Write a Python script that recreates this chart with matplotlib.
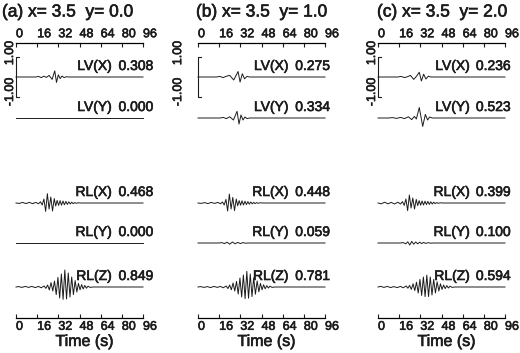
import matplotlib
matplotlib.use('Agg')
import matplotlib.pyplot as plt
import matplotlib.patheffects as pe

plt.rcParams['font.family'] = ['Liberation Sans', 'DejaVu Sans']
plt.rcParams['axes.linewidth'] = 0.9

W, H = 520., 353.

# panel headers and trace labels
titles = ['(a) x= 3.5  y= 0.0', '(b) x= 3.5  y= 1.0', '(c) x= 3.5  y= 2.0']
trace_names = ['LV(X)', 'LV(Y)', 'RL(X)', 'RL(Y)', 'RL(Z)']
peaks_a = ['0.308', '0.000', '0.468', '0.000', '0.849']
peaks_b = ['0.275', '0.334', '0.448', '0.059', '0.781']
peaks_c = ['0.236', '0.523', '0.399', '0.100', '0.594']
time_ticks = [0, 16, 32, 48, 64, 80, 96]

flat_t = [0, 96]
flat_a = [0, 0]

lvx_t_a = [0, 15, 17, 19, 21, 23, 25, 27.3, 29.3, 30.6, 32, 33.4, 34.8, 36.3, 38, 40, 96]
lvx_a_a = [0, 0, 0.03, -0.03, 0.04, -0.02, 0.08, -0.12, 0.308, -0.27, 0.11, -0.08, 0.05, -0.03, 0.015, 0, 0]

lvx_t_b = [0, 14, 16.5, 19, 21.5, 24, 27, 30.3, 31.8, 33.5, 35.2, 37, 39, 96]
lvx_a_b = [0, 0, 0.03, -0.03, 0.04, 0.08, -0.15, 0.275, -0.25, 0.16, -0.09, 0.03, 0, 0]
lvy_t_b = [0, 17, 19, 21.5, 24, 26.8, 29.5, 31, 32.5, 34, 35.5, 37, 39, 96]
lvy_a_b = [0, 0, 0.03, -0.03, 0.06, -0.1, 0.334, -0.3, 0.15, -0.1, 0.05, -0.03, 0, 0]

lvx_t_c = [0, 15, 17.5, 20, 22.5, 24.5, 27, 29, 31.2, 32.8, 34.5, 36.2, 38, 40, 96]
lvx_a_c = [0, 0, 0.03, -0.03, 0.02, 0.08, -0.12, 0.03, 0.236, -0.2, 0.14, -0.1, 0.04, 0, 0]
lvy_t_c = [0, 8, 11, 14, 17, 20, 23, 25.5, 27.5, 29, 31.2, 33.8, 35.8, 37.5, 39, 41, 96]
lvy_a_c = [0, 0, 0.02, -0.02, 0.03, -0.03, 0.06, -0.08, 0.08, -0.05, 0.523, -0.42, 0.18, -0.1, 0.05, 0, 0]

rlx_t = [0, 2.5, 5, 7.5, 10, 12.5, 15, 17, 18.5, 19.8, 21.1, 22.4, 23.7, 25, 26.3, 27.6, 28.9,
         30, 31.1, 32.2, 33.3, 34.4, 35.5, 36.6, 37.7, 38.8, 39.9, 41, 42.1, 43.2, 44.3, 45.5, 47, 49, 96]
rlx_a_a = [0, -0.02, 0.03, -0.03, 0.03, -0.03, 0.03, -0.04, 0.06, -0.1, 0.2, -0.42, 0.468, -0.3, 0.3, -0.4, 0.22,
           -0.15, 0.13, -0.12, 0.12, -0.11, 0.1, -0.09, 0.08, -0.07, 0.06, -0.05, 0.04, -0.03, 0.02, -0.015, 0.01, 0, 0]
rlx_a_b = [0, -0.02, 0.02, -0.03, 0.03, -0.02, 0.03, -0.04, 0.05, -0.1, 0.18, -0.4, 0.448, -0.3, 0.28, -0.38, 0.2,
           -0.14, 0.12, -0.11, 0.11, -0.1, 0.09, -0.08, 0.07, -0.06, 0.05, -0.04, 0.03, -0.03, 0.02, -0.015, 0.01, 0, 0]
rlx_a_c = [0, -0.04, 0.04, -0.04, 0.03, -0.05, 0.04, -0.05, 0.07, -0.12, 0.2, -0.38, 0.399, -0.25, 0.25, -0.3, 0.18,
           -0.13, 0.12, -0.11, 0.1, -0.1, 0.09, -0.08, 0.08, -0.07, 0.06, -0.05, 0.04, -0.03, 0.02, -0.015, 0.01, 0, 0]

rly_t_b = [0, 16, 18, 20, 22, 24, 26, 28, 30, 32, 34, 36, 38, 96]
rly_a_b = [0, 0, 0.02, -0.03, 0.04, -0.059, 0.05, -0.04, 0.03, -0.03, 0.02, -0.01, 0, 0]
rly_t_c = [0, 17, 19, 21, 22.5, 24, 25.5, 27, 28.5, 30, 31.5, 33, 34.5, 36, 38, 40, 42, 96]
rly_a_c = [0, 0, 0.02, -0.04, 0.06, -0.1, 0.08, -0.06, 0.05, -0.04, 0.04, -0.03, 0.03, -0.02, 0.015, -0.01, 0, 0]

rlz_t = [0, 2, 4.5, 7, 9.5, 12, 14.5, 17, 19, 21.3, 22.6, 23.9, 25.2, 26.5, 27.8, 29.1, 30.4, 31.7, 33, 34.3,
         35.6, 36.9, 38.2, 39.5, 40.8, 42.1, 43.4, 44.7, 46, 47.2, 48.4, 49.6, 50.8, 52, 53.2, 54.4, 56, 58, 96]
rlz_a_a = [0, 0.02, -0.02, 0.03, -0.02, 0.03, -0.03, 0.03, -0.04, 0.05, -0.07, 0.1, -0.15, 0.22, -0.2, 0.3,
           -0.38, 0.48, -0.55, 0.65, -0.62, 0.849, -0.6, 0.7, -0.5, 0.5, -0.38, 0.32, -0.25, 0.18, -0.14, 0.12,
           -0.1, 0.08, -0.06, 0.04, -0.02, 0, 0]
rlz_a_b = [0, 0.02, -0.02, 0.02, -0.03, 0.03, -0.02, 0.03, -0.04, 0.05, -0.08, 0.1, -0.14, 0.2, -0.2, 0.28,
           -0.35, 0.45, -0.5, 0.6, -0.58, 0.781, -0.56, 0.65, -0.48, 0.46, -0.36, 0.3, -0.24, 0.18, -0.14, 0.11,
           -0.09, 0.07, -0.05, 0.04, -0.02, 0, 0]
rlz_a_c = [0, 0.03, -0.02, 0.03, -0.03, 0.02, -0.03, 0.03, -0.04, 0.05, -0.06, 0.08, -0.12, 0.16, -0.18, 0.24,
           -0.3, 0.38, -0.42, 0.5, -0.48, 0.594, -0.48, 0.5, -0.4, 0.38, -0.3, 0.26, -0.2, 0.16, -0.12, 0.1,
           -0.08, 0.07, -0.05, 0.04, -0.02, 0, 0]

panels = [
    (titles[0], peaks_a, [(lvx_t_a, lvx_a_a), (flat_t, flat_a), (rlx_t, rlx_a_a), (flat_t, flat_a), (rlz_t, rlz_a_a)]),
    (titles[1], peaks_b, [(lvx_t_b, lvx_a_b), (lvy_t_b, lvy_a_b), (rlx_t, rlx_a_b), (rly_t_b, rly_a_b), (rlz_t, rlz_a_b)]),
    (titles[2], peaks_c, [(lvx_t_c, lvx_a_c), (lvy_t_c, lvy_a_c), (rlx_t, rlx_a_c), (rly_t_c, rly_a_c), (rlz_t, rlz_a_c)]),
]

# layout, in pixels of the 520x353 picture
ax_left = [16, 198, 378]
ax_w = 127.
ax_top, ax_bot = 43., 318.
title_x = [2, 196, 377]
bar_lab_x = [-4.5, -15., -4.5]
lab_end = [72.5, 68.5, 69.5]
val_start = [77.5, 73.5, 74.]
px_per_unit = 20.
baselines = [-1.7, -3.75, -8.0, -10.0, -12.2]
ink = '#1c1c1c'
heavy = [pe.withStroke(linewidth=0.45, foreground=ink)]

fig = plt.figure(figsize=(W / 100, H / 100), dpi=100)

for k, (title, peaks, traces) in enumerate(panels):
    ax = fig.add_axes([ax_left[k] / W, 1 - ax_bot / H, ax_w / W, (ax_bot - ax_top) / H])
    ax.set_xlim(0, 96)
    ax.set_ylim(-(ax_bot - ax_top) / px_per_unit, 0)
    for s in ['left', 'right']:
        ax.spines[s].set_visible(False)
    ax.set_yticks([])
    ax.set_xticks(time_ticks)
    ax.tick_params(axis='x', top=True, labeltop=True, bottom=True, labelbottom=True,
                   direction='in', length=3, width=0.8, labelsize=9, pad=2, colors=ink)
    for tk in ax.xaxis.get_major_ticks():
        for lab in (tk.label1, tk.label2):
            lab.set_horizontalalignment('left')
            lab.set_path_effects(heavy)

    for j, (t, a) in enumerate(traces):
        b = baselines[j]
        ax.plot(t, [b + v for v in a], c=ink, lw=0.7, clip_on=False)
        ax.text(lab_end[k], b + 0.55, trace_names[j], ha='right', va='center', fontsize=10,
                color=ink, path_effects=heavy)
        ax.text(val_start[k], b + 0.55, peaks[j], ha='left', va='center', fontsize=10,
                color=ink, path_effects=heavy, clip_on=False)

    # amplitude scale bar next to the first trace
    b0 = baselines[0]
    ax.plot([2.2, 0, 0, 2.2], [b0 + 1, b0 + 1, b0 - 1, b0 - 1], c=ink, lw=0.8, clip_on=False)
    ax.text(bar_lab_x[k], b0 + 1.2, '1.00', rotation=90, ha='center', va='center', fontsize=9,
            color=ink, path_effects=heavy)
    ax.text(bar_lab_x[k], b0 - 0.75, '-1.00', rotation=90, ha='center', va='center', fontsize=9,
            color=ink, path_effects=heavy)

    ax.set_xlabel('Time (s)', fontsize=11.5, color=ink, path_effects=heavy)
    ax.xaxis.set_label_coords(0.54, -0.058)

    fig.text(title_x[k] / W, 1 - 12 / H, title, ha='left', va='center', fontsize=12.5,
             color=ink, path_effects=heavy)

fig.savefig('out.png', dpi=100)
